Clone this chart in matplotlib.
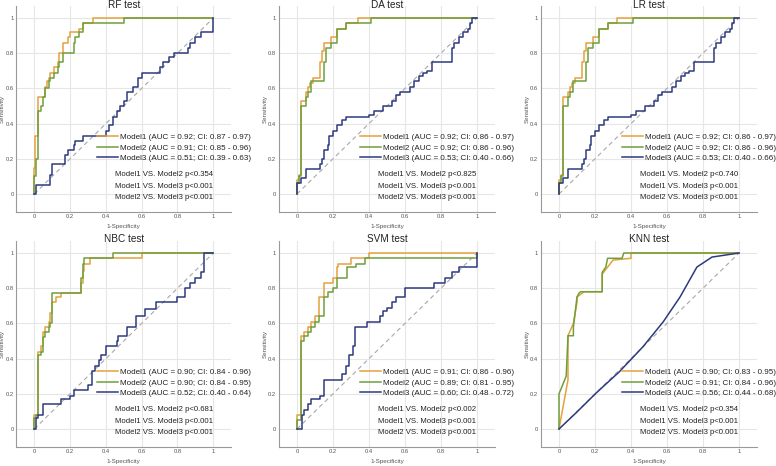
import matplotlib
matplotlib.use("Agg")
import matplotlib.pyplot as plt

plt.rcParams['font.family'] = ['Liberation Sans', 'DejaVu Sans']

titles = ["RF test", "DA test", "LR test", "NBC test", "SVM test", "KNN test"]

# ROC step vertices: (FPR at which TPR jumps, TPR after jump)
rf_m1_x = [0, 0, 0.005, 0.02, 0.06, 0.07, 0.08, 0.09, 0.11, 0.13, 0.14, 0.16, 0.19, 0.20, 0.25, 0.27, 0.33, 1.0]
rf_m1_y = [0, 0.15, 0.33, 0.55, 0.61, 0.64, 0.66, 0.69, 0.72, 0.75, 0.80, 0.86, 0.89, 0.92, 0.94, 0.97, 1.0, 1.0]
rf_m2_x = [0, 0, 0.01, 0.02, 0.04, 0.05, 0.06, 0.08, 0.09, 0.11, 0.13, 0.14, 0.16, 0.22, 0.23, 0.25, 0.27, 0.50, 1.0]
rf_m2_y = [0, 0.10, 0.20, 0.47, 0.50, 0.55, 0.60, 0.64, 0.66, 0.69, 0.72, 0.75, 0.80, 0.86, 0.89, 0.92, 0.97, 1.0, 1.0]
rf_m3_x = [0, 0.01, 0.09, 0.10, 0.17, 0.17, 0.19, 0.22, 0.23, 0.27, 0.40, 0.42, 0.44, 0.46, 0.48, 0.50, 0.52, 0.55, 0.58, 0.60, 0.70, 0.72, 0.75, 0.78, 0.86, 0.87, 0.90, 0.93, 1.0]
rf_m3_y = [0, 0.05, 0.11, 0.17, 0.19, 0.22, 0.25, 0.28, 0.30, 0.33, 0.36, 0.39, 0.44, 0.47, 0.50, 0.53, 0.58, 0.61, 0.66, 0.69, 0.72, 0.75, 0.78, 0.80, 0.83, 0.86, 0.89, 0.92, 1.0]

da_m1_x = [0, 0, 0.01, 0.02, 0.05, 0.06, 0.07, 0.09, 0.13, 0.14, 0.15, 0.19, 0.22, 0.27, 0.34, 1.0]
da_m1_y = [0, 0.08, 0.11, 0.53, 0.58, 0.61, 0.63, 0.66, 0.75, 0.81, 0.86, 0.89, 0.94, 0.97, 1.0, 1.0]
da_m2_x = [0, 0, 0.01, 0.02, 0.05, 0.06, 0.08, 0.15, 0.16, 0.19, 0.22, 0.27, 0.41, 1.0]
da_m2_y = [0, 0.06, 0.10, 0.50, 0.55, 0.58, 0.64, 0.75, 0.83, 0.86, 0.94, 0.97, 1.0, 1.0]
da_m3_x = [0, 0, 0.02, 0.05, 0.10, 0.13, 0.14, 0.15, 0.17, 0.18, 0.20, 0.22, 0.24, 0.25, 0.27, 0.40, 0.43, 0.45, 0.48, 0.53, 0.55, 0.57, 0.63, 0.65, 0.68, 0.70, 0.72, 0.75, 0.86, 0.87, 0.90, 0.92, 0.95, 0.96, 0.97, 1.0]
da_m3_y = [0, 0.06, 0.09, 0.14, 0.14, 0.17, 0.20, 0.25, 0.28, 0.33, 0.36, 0.39, 0.39, 0.42, 0.44, 0.45, 0.47, 0.47, 0.50, 0.53, 0.56, 0.58, 0.61, 0.64, 0.67, 0.69, 0.70, 0.75, 0.83, 0.86, 0.89, 0.92, 0.94, 0.97, 1.0, 1.0]

lr_m1_x = [0, 0, 0.01, 0.02, 0.05, 0.06, 0.07, 0.09, 0.13, 0.14, 0.15, 0.19, 0.22, 0.27, 0.32, 1.0]
lr_m1_y = [0, 0.08, 0.11, 0.55, 0.58, 0.61, 0.63, 0.66, 0.75, 0.81, 0.86, 0.89, 0.94, 0.97, 1.0, 1.0]
lr_m2_x = [0, 0, 0.01, 0.02, 0.05, 0.06, 0.08, 0.15, 0.16, 0.19, 0.22, 0.27, 0.41, 1.0]
lr_m2_y = [0, 0.06, 0.10, 0.50, 0.55, 0.58, 0.64, 0.75, 0.83, 0.86, 0.94, 0.97, 1.0, 1.0]
lr_m3_x = da_m3_x
lr_m3_y = da_m3_y

nbc_m1_x = [0, 0, 0.02, 0.04, 0.05, 0.06, 0.08, 0.09, 0.10, 0.12, 0.15, 0.26, 0.27, 0.28, 0.31, 0.60, 1.0]
nbc_m1_y = [0, 0.08, 0.44, 0.47, 0.55, 0.58, 0.61, 0.66, 0.72, 0.75, 0.77, 0.83, 0.90, 0.94, 0.97, 1.0, 1.0]
nbc_m2_x = [0, 0, 0.01, 0.02, 0.04, 0.05, 0.06, 0.08, 0.09, 0.10, 0.26, 0.27, 0.28, 0.44, 1.0]
nbc_m2_y = [0, 0.06, 0.08, 0.42, 0.44, 0.52, 0.55, 0.58, 0.60, 0.77, 0.86, 0.94, 0.97, 1.0, 1.0]
nbc_m3_x = [0, 0.01, 0.02, 0.05, 0.10, 0.15, 0.20, 0.22, 0.30, 0.32, 0.34, 0.36, 0.37, 0.40, 0.46, 0.47, 0.52, 0.57, 0.62, 0.68, 0.80, 0.84, 0.87, 0.90, 0.93, 0.95, 0.95, 1.0]
nbc_m3_y = [0, 0.06, 0.08, 0.14, 0.14, 0.17, 0.19, 0.22, 0.25, 0.33, 0.36, 0.39, 0.42, 0.47, 0.50, 0.53, 0.58, 0.64, 0.68, 0.72, 0.75, 0.80, 0.83, 0.86, 0.89, 0.92, 1.0, 1.0]

svm_m1_x = [0, 0, 0.02, 0.04, 0.06, 0.08, 0.10, 0.12, 0.15, 0.20, 0.22, 0.23, 0.30, 0.40, 1.0]
svm_m1_y = [0, 0.08, 0.53, 0.55, 0.58, 0.61, 0.64, 0.75, 0.83, 0.86, 0.92, 0.94, 0.97, 1.0, 1.0]
svm_m2_x = [0, 0, 0.02, 0.04, 0.06, 0.08, 0.10, 0.12, 0.15, 0.17, 0.20, 0.22, 0.28, 0.33, 0.38, 0.98, 1.0]
svm_m2_y = [0, 0.05, 0.50, 0.53, 0.55, 0.58, 0.61, 0.64, 0.75, 0.78, 0.80, 0.86, 0.92, 0.94, 0.97, 0.97, 1.0]
svm_m3_x = [0, 0.03, 0.04, 0.06, 0.08, 0.12, 0.13, 0.15, 0.22, 0.25, 0.27, 0.29, 0.31, 0.32, 0.38, 0.39, 0.45, 0.46, 0.48, 0.50, 0.53, 0.55, 0.60, 0.74, 0.76, 0.82, 0.86, 0.90, 0.96, 1.0]
svm_m3_y = [0, 0.08, 0.11, 0.14, 0.17, 0.17, 0.19, 0.28, 0.28, 0.31, 0.36, 0.42, 0.47, 0.58, 0.58, 0.61, 0.61, 0.64, 0.67, 0.69, 0.72, 0.75, 0.80, 0.80, 0.83, 0.86, 0.89, 0.92, 0.92, 1.0]

# KNN curves contain tied scores -> drawn as polylines
knn_m1_x = [0, 0.05, 0.05, 0.08, 0.10, 0.10, 0.14, 0.24, 0.24, 0.27, 0.30, 0.40, 0.40, 1.0]
knn_m1_y = [0, 0.28, 0.53, 0.60, 0.72, 0.75, 0.78, 0.78, 0.88, 0.92, 0.96, 0.97, 1.0, 1.0]
knn_m2_x = [0, 0, 0.04, 0.05, 0.08, 0.08, 0.10, 0.11, 0.12, 0.24, 0.24, 0.26, 0.27, 0.35, 0.36, 1.0]
knn_m2_y = [0, 0.20, 0.30, 0.53, 0.53, 0.58, 0.75, 0.77, 0.78, 0.78, 0.89, 0.92, 0.97, 0.97, 1.0, 1.0]
knn_m3_x = [0, 0.093, 0.206, 0.336, 0.467, 0.579, 0.673, 0.766, 0.85, 1.0]
knn_m3_y = [0, 0.09, 0.204, 0.326, 0.468, 0.609, 0.751, 0.92, 0.977, 1.0]

legend_texts = [
    ["Model1 (AUC = 0.92; CI: 0.87 - 0.97)", "Model2 (AUC = 0.91; CI: 0.85 - 0.96)", "Model3 (AUC = 0.51; CI: 0.39 - 0.63)"],
    ["Model1 (AUC = 0.92; CI: 0.86 - 0.97)", "Model2 (AUC = 0.92; CI: 0.86 - 0.96)", "Model3 (AUC = 0.53; CI: 0.40 - 0.66)"],
    ["Model1 (AUC = 0.92; CI: 0.86 - 0.97)", "Model2 (AUC = 0.92; CI: 0.86 - 0.96)", "Model3 (AUC = 0.53; CI: 0.40 - 0.66)"],
    ["Model1 (AUC = 0.90; CI: 0.84 - 0.96)", "Model2 (AUC = 0.90; CI: 0.84 - 0.95)", "Model3 (AUC = 0.52; CI: 0.40 - 0.64)"],
    ["Model1 (AUC = 0.91; CI: 0.86 - 0.96)", "Model2 (AUC = 0.89; CI: 0.81 - 0.95)", "Model3 (AUC = 0.60; CI: 0.48 - 0.72)"],
    ["Model1 (AUC = 0.90; CI: 0.83 - 0.95)", "Model2 (AUC = 0.91; CI: 0.84 - 0.96)", "Model3 (AUC = 0.56; CI: 0.44 - 0.68)"],
]
p_texts = [
    ["Model1 VS. Model2 p<0.354", "Model1 VS. Model3 p<0.001", "Model2 VS. Model3 p<0.001"],
    ["Model1 VS. Model2 p<0.825", "Model1 VS. Model3 p<0.001", "Model2 VS. Model3 p<0.001"],
    ["Model1 VS. Model2 p<0.740", "Model1 VS. Model3 p<0.001", "Model2 VS. Model3 p<0.001"],
    ["Model1 VS. Model2 p<0.681", "Model1 VS. Model3 p<0.001", "Model2 VS. Model3 p<0.001"],
    ["Model1 VS. Model2 p<0.002", "Model1 VS. Model3 p<0.001", "Model2 VS. Model3 p<0.001"],
    ["Model1 VS. Model2 p<0.354", "Model1 VS. Model3 p<0.001", "Model2 VS. Model3 p<0.001"],
]

curves = [
    [(rf_m1_x, rf_m1_y), (rf_m2_x, rf_m2_y), (rf_m3_x, rf_m3_y)],
    [(da_m1_x, da_m1_y), (da_m2_x, da_m2_y), (da_m3_x, da_m3_y)],
    [(lr_m1_x, lr_m1_y), (lr_m2_x, lr_m2_y), (lr_m3_x, lr_m3_y)],
    [(nbc_m1_x, nbc_m1_y), (nbc_m2_x, nbc_m2_y), (nbc_m3_x, nbc_m3_y)],
    [(svm_m1_x, svm_m1_y), (svm_m2_x, svm_m2_y), (svm_m3_x, svm_m3_y)],
    [(knn_m1_x, knn_m1_y), (knn_m2_x, knn_m2_y), (knn_m3_x, knn_m3_y)],
]
stepped = [True, True, True, True, True, False]

colors = ['#E5A13E', '#6F9F3C', '#2D3A7E']
ticks = [0, 0.2, 0.4, 0.6, 0.8, 1]
tick_labels = ['0', '0.2', '0.4', '0.6', '0.8', '1']

W, H = 776, 466
fig = plt.figure(figsize=(W / 100, H / 100), dpi=100)
fig.patch.set_facecolor('white')

# axes boxes in pixels: (left, top, right, bottom)
boxes = [
    (16.4, 5.7, 231.2, 211.6),
    (279.0, 5.7, 495.0, 211.6),
    (541.0, 5.7, 757.0, 211.6),
    (16.4, 240.7, 231.2, 446.6),
    (279.0, 240.7, 495.0, 446.6),
    (541.0, 240.7, 757.0, 446.6),
]
title_y = [5.5, 5.5, 5.5, 239.5, 239.5, 239.5]

for i, (l, t, r, b) in enumerate(boxes):
    w_px, h_px = r - l, b - t
    ax = fig.add_axes([l / W, 1 - b / H, w_px / W, h_px / H])
    ax.set_xlim(-0.1, 1.1)
    ax.set_ylim(-0.1, 1.07)
    ax.grid(True, color='#E6E6E6', linewidth=0.8)
    ax.set_axisbelow(True)
    for s in ['top', 'right']:
        ax.spines[s].set_visible(False)
    for s in ['left', 'bottom']:
        ax.spines[s].set_color('#999999')
        ax.spines[s].set_linewidth(0.8)
    ax.set_xticks(ticks)
    ax.set_xticklabels(tick_labels)
    ax.set_yticks(ticks)
    ax.set_yticklabels(tick_labels)
    ax.tick_params(length=0, labelsize=4.2, colors='#555555', pad=2)
    ax.set_xlabel('1-Specificity', fontsize=4.5, color='#555555')
    ax.xaxis.set_label_coords(0.5, -12.5 / h_px)
    ax.set_ylabel('Sensitivity', fontsize=4.5, color='#555555')
    ax.yaxis.set_label_coords(-11.5 / w_px, 0.5)
    fig.text((l + r) / 2 / W, 1 - title_y[i] / H, titles[i], fontsize=7.2,
             color='#222222', ha='center', va='center')

    ax.plot([0, 1], [0, 1], linestyle=(0, (4, 3)), color='#A8A8A8', linewidth=0.8)
    handles = []
    for (xs, ys), c, lab in zip(curves[i], colors, legend_texts[i]):
        if stepped[i]:
            h, = ax.plot(xs, ys, drawstyle='steps-post', color=c, linewidth=1.1, label=lab)
        else:
            h, = ax.plot(xs, ys, color=c, linewidth=1.1, label=lab)
        handles.append(h)

    leg = ax.legend(handles=handles, loc='center left', bbox_to_anchor=(0.375, 0.31),
                    frameon=False, fontsize=5.8, handlelength=2.6, handletextpad=0.3,
                    labelspacing=0.35, borderaxespad=0, borderpad=0)
    for txt in leg.get_texts():
        txt.set_color('#222222')
    for k, (ptxt, yf) in enumerate(zip(p_texts[i], [0.178, 0.124, 0.067])):
        ax.text(0.459, yf, ptxt, fontsize=5.6, color='#222222', va='center',
                transform=ax.transAxes)

fig.savefig('out.png', dpi=100, facecolor='white')
